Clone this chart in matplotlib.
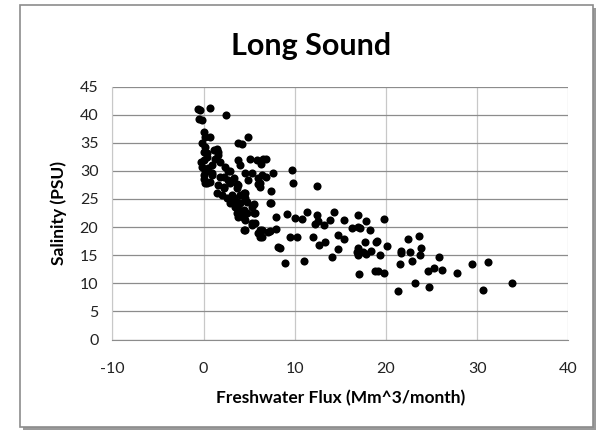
import matplotlib
matplotlib.use("Agg")
import matplotlib.pyplot as plt
from matplotlib.patches import Rectangle

# Freshwater flux (Mm^3/month) and salinity (PSU)
flux = [
    -0.6, -0.4, 0.7, 2.5, -0.5, -0.2, 0.0, 0.2, 0.7, -0.2, 0.2, 0.0, 1.1, 1.6, 1.5, 0.4,
    0.4, 0.0, 1.3, 1.6, 1.8, -0.2, 0.5, 0.9, 0.0, 0.9, 2.4, 2.7, 2.2, 0.4, 0.9, 1.8, 2.9, -0.3, 0.2,
    4.9, 3.8, 4.2, 3.8, 5.1, 5.9, 6.5, 4.0, 6.3, 6.8, 4.6, 5.3, 3.3, 4.9, 6.0, 6.4, 7.6, 6.8,
    0.2, 0.7, 0.4, 1.6, 2.2, 2.7, 2.9, 3.7, 3.8, 3.7, 6.0, 6.2, 6.2, 1.5, 2.0, 2.2, 2.6, 3.1,
    4.0, 4.6, 4.4, 4.6, 3.3, 7.4, 2.9, 3.7, 4.0, 3.7, 4.8, 5.5, 7.3, 7.4, 0.0,
    3.5, 4.4, 3.8, 5.3, 5.5, 3.7, 4.2, 4.8, 5.7, 4.6, 4.4, 3.8, 5.3, 5.7, 5.3, 4.4, 4.6, 6.2,
    6.0, 6.4, 6.2, 7.1, 7.3, 8.0, 6.4, 8.0,
    9.7, 9.8, 12.4, 9.2, 10.0, 10.8, 11.3, 12.4, 12.2, 12.6, 13.2, 13.9, 14.3, 9.5, 10.2, 12.0,
    12.7, 13.3, 14.7, 14.7, 8.2, 8.4, 14.1, 8.9, 11.0,
    15.4, 16.9, 17.8, 19.8, 16.3, 17.2, 16.9, 18.3, 15.4, 17.7, 18.9, 19.0, 20.1, 16.9, 17.5,
    18.4, 16.8, 16.9, 17.8, 19.4, 17.0, 18.8, 19.1, 19.8,
    23.6, 22.4, 23.9, 21.7, 21.7, 22.6, 23.7, 25.8, 22.9, 21.6, 29.4, 25.3, 26.2, 24.6, 27.8,
    23.2, 24.7, 21.3, 31.2, 30.7, 33.8,
]
salinity = [
    41.1, 40.8, 41.2, 39.9, 39.2, 39.0, 37.0, 36.1, 36.1, 34.9, 34.3, 33.4, 33.7, 33.4, 33.9, 33.1,
    32.5, 31.9, 32.2, 32.8, 31.6, 30.7, 30.5, 31.0, 29.3, 29.3, 30.7, 29.9, 29.0, 29.9, 29.7, 29.0, 29.9, 31.5, 30.0,
    36.1, 34.9, 34.7, 31.9, 32.2, 31.9, 32.1, 31.0, 31.2, 32.1, 29.6, 29.6, 28.7, 28.4, 28.7, 29.3, 29.6, 29.0,
    27.8, 28.1, 27.8, 27.5, 27.2, 28.4, 27.8, 27.7, 27.5, 26.9, 27.7, 27.8, 27.2, 26.0, 25.7, 26.9, 25.1, 25.7,
    25.7, 25.1, 26.1, 26.0, 25.1, 26.5, 24.2, 24.2, 24.2, 24.5, 24.5, 24.1, 24.2, 24.2, 28.5,
    23.6, 23.0, 23.3, 23.6, 22.5, 22.5, 22.7, 22.5, 22.5, 21.3, 21.6, 21.8, 20.7, 20.7, 20.4, 19.5, 19.5, 19.5,
    18.9, 18.3, 18.3, 19.2, 19.3, 19.6, 19.5, 21.8,
    30.2, 27.8, 27.3, 22.3, 21.6, 21.4, 22.7, 22.2, 20.5, 21.0, 20.4, 21.2, 22.6, 18.3, 18.3, 18.3,
    16.9, 17.4, 18.6, 16.1, 16.5, 16.3, 14.7, 13.6, 14.0,
    21.2, 22.2, 21.1, 21.4, 19.9, 19.9, 20.1, 19.5, 17.8, 17.4, 17.3, 17.6, 16.7, 16.2, 15.6,
    15.8, 15.6, 15.0, 15.2, 15.0, 11.6, 12.1, 12.1, 11.9,
    18.4, 17.8, 16.2, 15.4, 15.7, 15.6, 15.0, 14.6, 14.0, 13.4, 13.4, 12.7, 12.4, 12.1, 11.9,
    10.1, 9.3, 8.7, 13.8, 8.8, 10.0,
]

x_ticks = [-10, 0, 10, 20, 30, 40]
y_ticks = [0, 5, 10, 15, 20, 25, 30, 35, 40, 45]

plt.rcParams["font.family"] = ["Lato", "DejaVu Sans"]
plt.rcParams["axes.unicode_minus"] = False

fig = plt.figure(figsize=(6.03, 4.30), dpi=100)
# chart border with a little shadow, Excel style
fig.patches.append(Rectangle((23 / 603, 0.5 / 430), 573 / 603, 422 / 430, transform=fig.transFigure,
                             facecolor="#9a9a9a", edgecolor="none", zorder=-3))
fig.patches.append(Rectangle((20 / 603, 3 / 430), 573 / 603, 422 / 430, transform=fig.transFigure,
                             facecolor="white", edgecolor="#8c8c8c", linewidth=1.2, zorder=-2))

ax = fig.add_axes([112.3 / 603, 1 - 339.5 / 430, 456 / 603, 252.9 / 430])
ax.scatter(flux, salinity, s=34, color="black", linewidths=0, zorder=3)

ax.set_xlim(-10, 40)
ax.set_ylim(0, 45)
ax.set_xticks(x_ticks)
ax.set_yticks(y_ticks)
ax.tick_params(length=0, labelsize=11.5, colors="#222222")
ax.tick_params(axis="x", pad=16)
ax.tick_params(axis="y", pad=10)
ax.grid(axis="y", color="#8c8c8c", linewidth=0.9)
ax.grid(axis="x", color="#c8c8c8", linewidth=0.9)
ax.set_axisbelow(True)
for side in ["top", "right"]:
    ax.spines[side].set_visible(False)
ax.spines["left"].set_color("#c8c8c8")
ax.spines["bottom"].set_color("#8c8c8c")

ax.set_xlabel("Freshwater Flux (Mm^3/month)", fontsize=12.5, fontweight="bold", labelpad=10)
ax.set_ylabel("Salinity (PSU)", fontsize=12.5, fontweight="bold", labelpad=9)
fig.text(311 / 603, 1 - 46 / 430, "Long Sound", ha="center", va="center", fontsize=22, fontweight="bold")

fig.savefig("out.png", dpi=100)
